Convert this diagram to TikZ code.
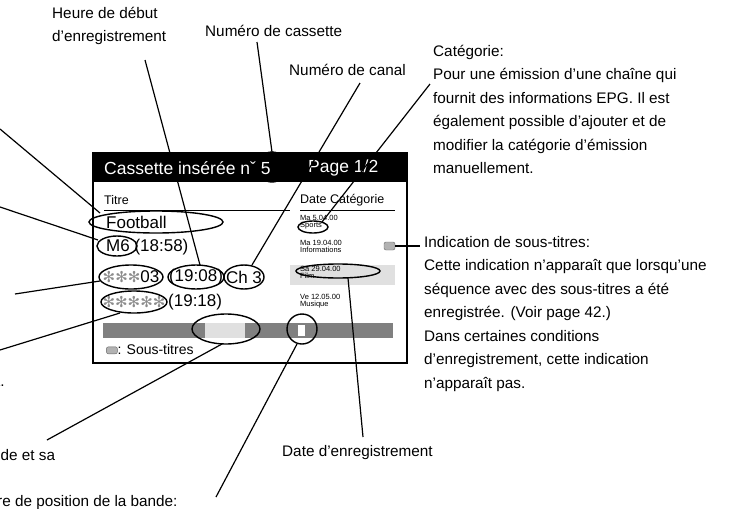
\documentclass[tikz,border=0pt]{standalone}
\usepackage{fontspec}
\setmainfont{Liberation Sans}
\newfontfamily\dvs{DejaVu Sans}
\newcommand{\stars}[1]{\textcolor{black!45}{\dvs\fontsize{15}{15}\selectfont #1}}
\begin{document}
\begin{tikzpicture}[x=1pt,y=-1pt,
  lbl/.style={font=\fontsize{15.3}{23.5}\selectfont,inner sep=0,align=left},
  row/.style={font=\fontsize{17}{18}\selectfont,inner sep=0},
  sm/.style={font=\fontsize{7.5}{7.5}\selectfont,inner sep=0,anchor=north west,align=left},
  hd/.style={inner sep=0,anchor=west,text=white,font=\fontsize{17.5}{18}\selectfont},
  lead/.style={line width=1.2pt},
  ring/.style={line width=1.4pt}]
\useasboundingbox (0,0) rectangle (756,509);
% box
\fill[black!50] (103,323) rectangle (393,338);
\fill[black!12] (205,323) rectangle (245,338);
\fill[white] (298,325) rectangle (305,336);
\fill[black!12] (290,265) rectangle (395,285);
\draw[line width=2pt] (93,153) rectangle (407,363);
\node[inner sep=0,anchor=west,font=\fontsize{12.5}{13}\selectfont] (titre) at (104,200) {Titre};
\node[inner sep=0,anchor=west,font=\fontsize{12.5}{13}\selectfont] (datecat) at (300,200) {Date Catégorie};
\draw[line width=1pt] (104,210) -- (290,210) (300,210) -- (395,210);
\node[row,anchor=west] (foot) at (106,222) {Football};
\node[row,anchor=west] (m6) at (106,247) {M6 (18:58)};
\node[row] (r3a) at (131,277) {\stars{✻✻✻}03};
\node[row] (r3b) at (196,277) {(19:08)};
\node[row] (r3c) at (244,277) {Ch 3};
\node[row] (r4a) at (134,302) {\stars{✻✻✻✻✻}};
\node[row,anchor=west] (r4b) at (168,302) {(19:18)};
\node[inner sep=0,anchor=west,font=\fontsize{14}{15}\selectfont] (st) at (106,349) {\tikz[x=1pt,y=1pt]\draw[black!60,fill=black!30,rounded corners=2pt](0,0) rectangle (11,7);: Sous-titres};
\node[sm] (d1) at (300,215) {Ma 5.04.00\\Sports};
\node[sm] (d2) at (300,240) {Ma 19.04.00\\Informations};
\node[sm] (d3) at (300,266) {Sa 29.04.00\\Film};
\node[sm] (d4) at (300,294) {Ve 12.05.00\\Musique};
\draw[black!60,fill=black!30,rounded corners=2pt] (384,242) rectangle (395,250);
\coordinate (ico) at (395,246);
% rings
\draw[ring] (156,222) ellipse (67 and 11);
\draw[ring] (117,246) ellipse (20 and 10);
\draw[ring] (131,277) ellipse (32 and 12);
\draw[ring] (196,277) ellipse (28 and 12);
\draw[ring] (244,277) ellipse (20 and 12);
\draw[ring] (134,302) ellipse (33 and 11);
\draw[ring] (226,329) ellipse (34 and 15);
\draw[ring] (302,329) circle (15);
\draw[ring] (313,227) ellipse (15 and 6);
\draw[ring] (338,271) ellipse (42 and 7);
\draw[ring] (272,167) circle (15);
\fill[black] (93,153) rectangle (407,181.5);
\node[hd] (hdr) at (104,168) {Cassette insérée nˇ 5};
\node[hd] (pg) at (308,168) {Page 1/2};
\coordinate (cas) at (272,152);
\coordinate (t3) at (200,265);
\coordinate (ch) at (252,265);
\coordinate (sp) at (322,222);
\coordinate (fi) at (348,278);
\coordinate (pos) at (297,344);
\coordinate (bnd) at (222,344);
% labels
\node[lbl,anchor=north west] (heure) at (52,7) {Heure de début\\d’enregistrement};
\node[lbl,anchor=west] (ncas) at (205,31) {Numéro de cassette};
\node[lbl,anchor=west] (ncan) at (289,70) {Numéro de canal};
\node[lbl,anchor=north west] (cat) at (433,45) {Catégorie:\\Pour une émission d’une chaîne qui\\fournit des informations EPG. Il est\\également possible d’ajouter et de\\modifier la catégorie d’émission\\manuellement.};
\node[lbl,anchor=north west] (ind) at (424,236) {Indication de sous-titres:\\Cette indication n’apparaît que lorsqu’une\\séquence avec des sous-titres a été\\enregistrée. (Voir page 42.)\\Dans certaines conditions\\d’enregistrement, cette indication\\n’apparaît pas.};
\node[lbl,anchor=west] (date) at (282,453) {Date d’enregistrement};
\node[lbl,anchor=west] (bande) at (-8,455) {nde et sa};
\node[lbl,anchor=west] (posl) at (-3,503) {re de position de la bande:};
\node[lbl,anchor=west] (dot) at (-4,382) {t.};
% leaders
\draw[lead] (145,60) -- (t3);
\draw[lead] (257,42) -- (cas);
\draw[lead] (360,83) -- (ch);
\draw[lead] (430,84) -- (sp);
\draw[lead] (ico) -- (420,246);
\draw[lead] (363,437) -- (fi);
\draw[lead] (216,497) -- (pos);
\draw[lead] (47,440) -- (bnd);
\draw[lead] (0,129) -- (100,213);
\draw[lead] (0,207) -- (98,240);
\draw[lead] (15,294) -- (100,281);
\draw[lead] (0,350) -- (120,313);
\end{tikzpicture}
\end{document}
